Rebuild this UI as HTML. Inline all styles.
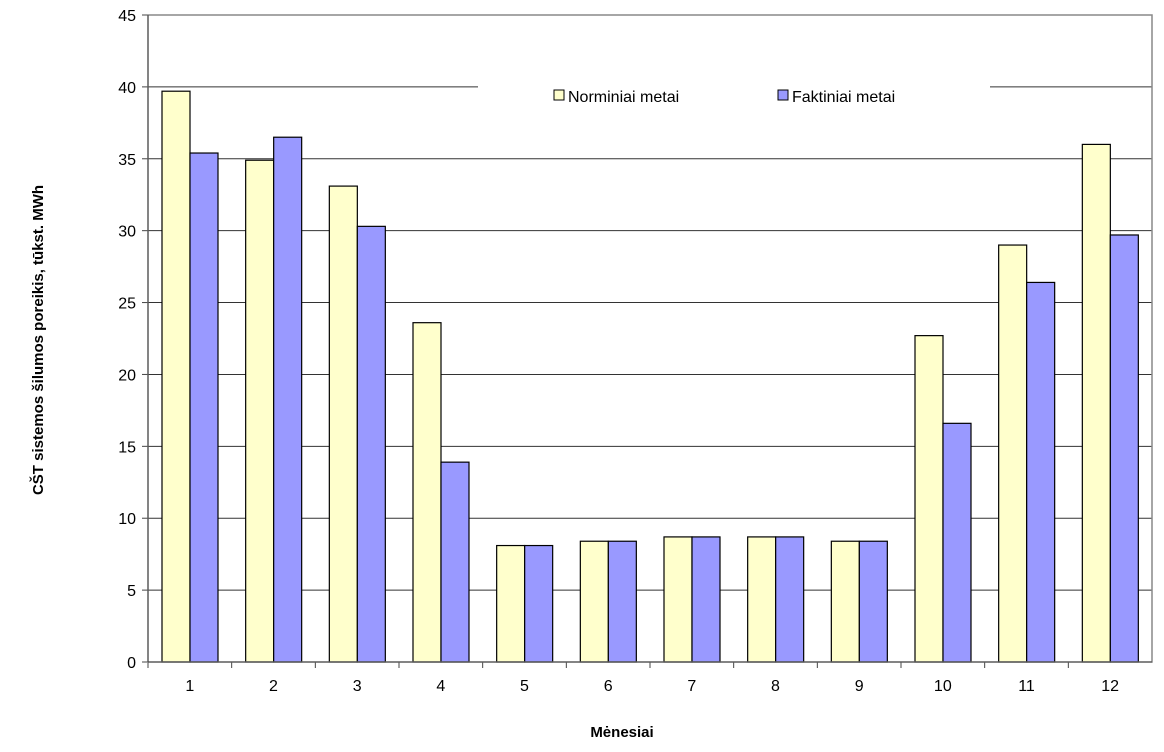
<!DOCTYPE html>
<html><head><meta charset="utf-8"><style>body{margin:0;background:#fff}svg text{font-family:"Liberation Sans",sans-serif}</style></head>
<body>
<svg id="chart" width="1164" height="747" xmlns="http://www.w3.org/2000/svg"></svg>
<script>
const categories=["1","2","3","4","5","6","7","8","9","10","11","12"];
const normValues=[39.7,34.9,33.1,23.6,8.1,8.4,8.7,8.7,8.4,22.7,29.0,36.0];
const faktValues=[35.4,36.5,30.3,13.9,8.1,8.4,8.7,8.7,8.4,16.6,26.4,29.7];
const yTicks=[0,5,10,15,20,25,30,35,40,45];
const svg=document.getElementById('chart');const NS='http://www.w3.org/2000/svg';
const L=148,R=1152,T=15,B=662,yMax=45;
const cw=(R-L)/categories.length;
const y=v=>B-(v/yMax)*(B-T);
const xc=i=>L+i*cw;
function mk(t,a,p){const e=document.createElementNS(NS,t);for(const k in a)e.setAttribute(k,a[k]);(p||svg).appendChild(e);return e;}
yTicks.forEach(v=>{
 if(v>0&&v<45){const g=mk('line',{x1:L,x2:R,y1:y(v),y2:y(v),stroke:'#333','stroke-width':1});
 
 }
 const tk=mk('line',{x1:L-6,x2:L,y1:y(v),y2:y(v),stroke:'#444'});
 
 
 const t=mk('text',{x:L-12,y:y(v)+6,'text-anchor':'end','font-size':16,fill:'#000'});t.textContent=v;
 
 
});
const lg=mk('rect',{x:478,y:70,width:512,height:50,fill:'#fff'});


categories.forEach((c,i)=>{
 const b1=mk('rect',{x:xc(i)+14,y:y(normValues[i]),width:28,height:B-y(normValues[i]),fill:'#ffffcc',stroke:'#000','stroke-width':1.2});
 
 
 const b2=mk('rect',{x:xc(i)+42,y:y(faktValues[i]),width:28,height:B-y(faktValues[i]),fill:'#9999ff',stroke:'#000','stroke-width':1.2});
 
 
 const tk=mk('line',{x1:xc(i),x2:xc(i),y1:B,y2:B+6,stroke:'#444'});
 
 
 const t=mk('text',{x:xc(i)+cw/2,y:B+29,'text-anchor':'middle','font-size':16});t.textContent=c;
 
 
});
const fr=mk('rect',{x:L,y:T,width:R-L,height:B-T,fill:'none',stroke:'#888','stroke-width':1.5});


const ax=mk('line',{x1:L,x2:R,y1:B,y2:B,stroke:'#444'});


const ay=mk('line',{x1:L,x2:L,y1:T,y2:B,stroke:'#444'});


</script>
<svg style="position:absolute;left:0;top:0" width="1164" height="747">
 <rect x="554" y="90" width="10" height="10" fill="#ffffcc" stroke="#000"/>
 <text x="568" y="102" font-size="16">Norminiai metai</text>
 <rect x="778" y="90" width="10" height="10" fill="#9999ff" stroke="#000"/>
 <text x="792" y="102" font-size="16">Faktiniai metai</text>
 <text x="622" y="737" font-size="15" font-weight="bold" text-anchor="middle">Mėnesiai</text>
 <text transform="translate(43,340) rotate(-90)" font-size="15" font-weight="bold" text-anchor="middle">CŠT sistemos  šilumos poreikis, tūkst. MWh</text>
</svg>
</body></html>
